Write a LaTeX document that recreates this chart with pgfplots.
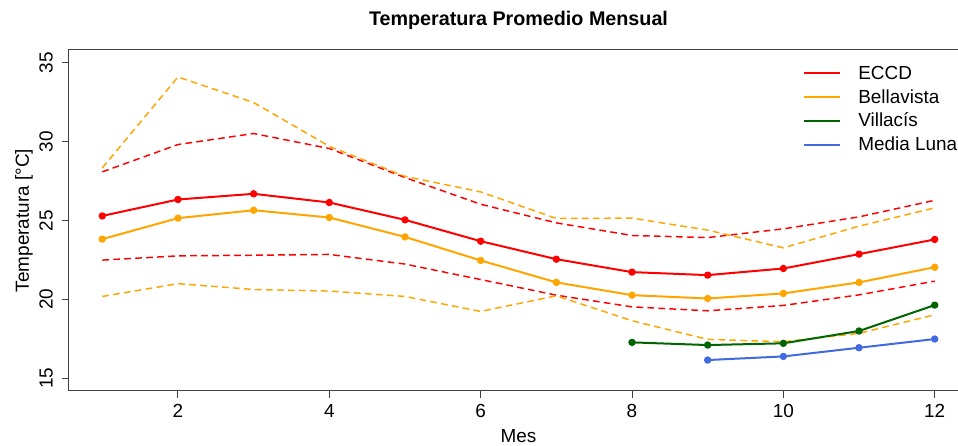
\documentclass[border=0pt]{standalone}
\usepackage{pgfplots}
\pgfplotsset{compat=1.18}
\usepackage{fontspec}
\setmainfont{Liberation Sans}
\definecolor{cred}{RGB}{255,0,0}
\definecolor{corange}{RGB}{255,165,0}
\definecolor{cgreen}{RGB}{0,100,0}
\definecolor{cblue}{RGB}{65,105,225}
\newcommand{\txt}{\fontsize{14.2pt}{17pt}\selectfont}
\begin{document}
\begin{tikzpicture}
\begin{axis}[
  name=ax, at={(0,0)}, anchor=south west,
  scale only axis, width=674.25pt, height=255.75pt,
  xmin=0.56, xmax=12.44, ymin=14.2, ymax=35.8,
  xtick={2,4,6,8,10,12}, ytick={15,20,25,30,35},
  tick align=outside, major tick length=5.25pt,
  axis line style={black!75, line width=0.75pt},
  tick style={black!75, line width=0.75pt},
  xtick pos=bottom, ytick pos=left,
  /pgf/number format/assume math mode=true,
  ticklabel style={font=\txt, inner sep=0pt},
  xticklabel style={anchor=base},
  yticklabel style={rotate=90, anchor=base},
  xticklabel shift=15pt,
  yticklabel shift=7pt,
  title={Temperatura Promedio Mensual},
  title style={font=\fontsize{14.8pt}{18pt}\selectfont\bfseries, at={(axis description cs:0.5,1.047)}, anchor=base, inner sep=0pt},
  xlabel={Mes},
  xlabel style={font=\txt, at={(axis description cs:0.5,-0.1525)}, anchor=base, inner sep=0pt},
  ylabel={Temperatura [°C]},
  ylabel style={font=\txt, at={(axis description cs:-0.0445,0.5)}, anchor=base, inner sep=0pt},
  legend cell align=left,
  legend image code/.code={\draw[#1] (0pt,0pt) -- (27pt,0pt);},
  legend style={draw=none, fill=none, at={(axis description cs:0.8168,0.961)}, anchor=north west,
    inner sep=0pt, outer sep=0pt, row sep=2.85pt,
    font=\txt,
    nodes={inner sep=0pt, text height=12pt, text depth=3pt},
    /tikz/every odd column/.append style={column sep=12.75pt}},
  every axis plot/.append style={line join=round},
]
% dashed bands
\addplot[cred, line width=1.1pt, dash pattern=on 5pt off 3.25pt, forget plot] coordinates {
(1,28.08) (2,29.81) (3,30.51) (4,29.56) (5,27.72) (6,26.03) (7,24.85) (8,24.05) (9,23.92) (10,24.47) (11,25.23) (12,26.28)};
\addplot[cred, line width=1.1pt, dash pattern=on 5pt off 3.25pt, forget plot] coordinates {
(1,22.49) (2,22.76) (3,22.80) (4,22.85) (5,22.24) (6,21.26) (7,20.27) (8,19.53) (9,19.28) (10,19.62) (11,20.29) (12,21.16)};
\addplot[corange, line width=1.1pt, dash pattern=on 5pt off 3.25pt, forget plot] coordinates {
(1,28.33) (2,34.09) (3,32.47) (4,29.70) (5,27.80) (6,26.81) (7,25.13) (8,25.15) (9,24.39) (10,23.27) (11,24.64) (12,25.80)};
\addplot[corange, line width=1.1pt, dash pattern=on 5pt off 3.25pt, forget plot] coordinates {
(1,20.19) (2,21.00) (3,20.63) (4,20.53) (5,20.19) (6,19.24) (7,20.23) (8,18.65) (9,17.47) (10,17.32) (11,17.85) (12,19.03)};
% means
\addplot[cred, line width=1.5pt, mark=*, mark size=2pt] coordinates {
(1,25.29) (2,26.33) (3,26.69) (4,26.14) (5,25.04) (6,23.69) (7,22.55) (8,21.73) (9,21.54) (10,21.96) (11,22.87) (12,23.80)};
\addlegendentry{ECCD}
\addplot[corange, line width=1.5pt, mark=*, mark size=2pt] coordinates {
(1,23.82) (2,25.15) (3,25.65) (4,25.19) (5,23.96) (6,22.47) (7,21.08) (8,20.27) (9,20.06) (10,20.38) (11,21.08) (12,22.04)};
\addlegendentry{Bellavista}
\addplot[cgreen, line width=1.5pt, mark=*, mark size=2pt] coordinates {
(8,17.28) (9,17.11) (10,17.22) (11,18.00) (12,19.64)};
\addlegendentry{Villacís}
\addplot[cblue, line width=1.5pt, mark=*, mark size=2pt] coordinates {
(9,16.16) (10,16.39) (11,16.94) (12,17.49)};
\addlegendentry{Media Luna}
\end{axis}
\pgfresetboundingbox
\useasboundingbox (-51.75pt,-41.25pt) rectangle (666.75pt,293.25pt);
\end{tikzpicture}
\end{document}
